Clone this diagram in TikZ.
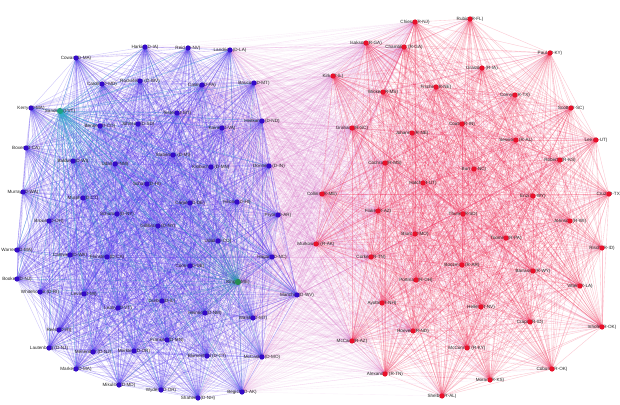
\documentclass[tikz,border=0pt]{standalone}
\usepackage{fontspec}
\setmainfont{Liberation Sans}
\definecolor{demnode}{RGB}{52,10,200}
\definecolor{repnode}{RGB}{232,16,42}
\definecolor{demedge}{RGB}{80,52,238}
\definecolor{repedge}{RGB}{242,36,78}
\definecolor{crossedge}{RGB}{220,100,200}
\definecolor{sandcol}{RGB}{30,160,130}
\definecolor{sandedge}{RGB}{40,190,200}
\definecolor{kingcol}{RGB}{40,140,80}
\def\dems{d1/145/47/Harkin (D-IA),d2/188/48/Reid (D-NV),d3/230/50/Landrieu (D-LA),d4/76/58/Cowan (D-MA),d5/102/84/Cardin (D-MD),d6/140/81/Rockefeller (D-WV),d7/202/85/Casey (D-PA),d8/254/83/Baucus (D-MT),d9/31/108/Kerry (D-MA),d10/60/111/Sanders (I-VT),d11/100/126/Bennet (D-CO),d12/138/124/Johnson (D-SD),d13/177/113/Tester (D-MT),d14/262/121/Heitkamp (D-ND),d15/222/128/Kaine (D-VA),d16/26/148/Boxer (D-CA),d17/73/161/Baldwin (D-WI),d18/115/164/Udall (D-NM),d19/173/155/Stabenow (D-MI),d20/211/167/Klobuchar (D-MN),d21/269/166/Donnelly (D-IN),d22/147/184/Schatz (D-HI),d23/23/192/Murray (D-WA),d24/83/198/Murphy (D-CT),d25/117/214/Schumer (D-NY),d26/190/203/Carper (D-DE),d27/237/202/Hirono (D-HI),d28/278/215/Pryor (D-AR),d29/49/221/Brown (D-OH),d30/158/226/Gillibrand (D-NY),d31/218/241/Udall (D-CO),d32/17/250/Warren (D-MA),d33/70/255/Cantwell (D-WA),d34/107/257/Feinstein (D-CA),d35/272/257/Hagan (D-NC),d36/190/266/Coons (D-DE),d37/17/279/Booker (D-NJ),d38/40/292/Whitehouse (D-RI),d39/84/294/Levin (D-MI),d40/118/308/Leahy (D-VT),d41/238/282/King (I-ME),d42/297/295/Manchin (D-WV),d43/162/301/Durbin (D-IL),d44/205/313/Heinrich (D-NM),d45/253/318/Walsh (D-MT),d46/59/330/Reed (D-RI),d47/49/348/Lautenberg (D-NJ),d48/93/352/Menendez (D-NJ),d49/134/351/Merkley (D-OR),d50/167/340/Franken (D-MN),d51/207/356/Blumenthal (D-CT),d52/262/357/McCaskill (D-MO),d53/76/369/Markey (D-MA),d54/119/385/Mikulski (D-MD),d55/161/390/Wyden (D-OR),d56/198/398/Shaheen (D-NH),d57/242/392/Begich (D-AK)}
\def\reps{r1/415/22/Chiesa (R-NJ),r2/470/19/Rubio (R-FL),r3/366/43/Isakson (R-GA),r4/404/47/Chambliss (R-GA),r5/550/53/Paul (R-KY),r6/482/68/Grassley (R-IA),r7/333/76/Kirk (R-IL),r8/383/92/Wicker (R-MS),r9/436/87/Fischer (R-NE),r10/515/95/Cornyn (R-TX),r11/571/108/Scott (R-SC),r12/352/128/Graham (R-SC),r13/412/133/Johanns (R-NE),r14/462/124/Coats (R-IN),r15/516/140/Sessions (R-AL),r16/596/140/Lee (R-UT),r17/560/160/Roberts (R-KS),r18/385/163/Cochran (R-MS),r19/423/183/Hatch (R-UT),r20/474/169/Burr (R-NC),r21/322/194/Collins (R-ME),r22/533/196/Enzi (R-WY),r23/609/194/Cruz (R-TX),r24/378/211/Flake (R-AZ),r25/463/214/Thune (R-SD),r26/570/221/Johnson (R-WI),r27/415/234/Blunt (R-MO),r28/506/238/Toomey (R-PA),r29/316/244/Murkowski (R-AK),r30/602/248/Risch (R-ID),r31/371/257/Corker (R-TN),r32/462/265/Boozman (R-AR),r33/533/271/Barrasso (R-WY),r34/416/280/Portman (R-OH),r35/580/286/Vitter (R-LA),r36/382/303/Ayotte (R-NH),r37/481/307/Heller (R-NV),r38/530/322/Crapo (R-ID),r39/602/327/Inhofe (R-OK),r40/413/331/Hoeven (R-ND),r41/352/341/McCain (R-AZ),r42/467/348/McConnell (R-KY),r43/552/369/Coburn (R-OK),r44/385/374/Alexander (R-TN),r45/490/380/Moran (R-KS),r46/442/396/Shelby (R-AL)}
\begin{document}
\begin{tikzpicture}[x=1pt,y=-1pt,
  de/.style={draw=demedge,draw opacity=0.3,line width=0.35pt},
  re/.style={draw=repedge,draw opacity=0.27,line width=0.35pt},
  se/.style={draw=sandedge,draw opacity=0.45,line width=0.35pt},
  ke/.style={draw=kingcol!60!cyan,draw opacity=0.3,line width=0.35pt},
  xe/.style={draw=crossedge,draw opacity=0.1,line width=0.35pt},
  lbl/.style={font=\fontsize{4.6}{5}\selectfont,text=black!85,inner sep=0pt},
  dnode/.style={fill=demnode},
  rnode/.style={fill=repnode}]
\useasboundingbox (0,0) rectangle (620,404);
\fill[white] (0,0) rectangle (620,404);
% coordinates
\foreach \n/\x/\y/\t in \dems {\coordinate (\n) at (\x,\y);}
\foreach \n/\x/\y/\t in \reps {\coordinate (\n) at (\x,\y);}
% cross-party connectors
\foreach \a in {3,7,8,13,14,15,21,28,35,41,42,45,52,57}{
  \foreach \b in {1,...,46}{\draw[xe] (d\a) -- (r\b);}}
\foreach \b in {1,3,4,7,12,18,21,24,29,31,40,41,44}{
  \foreach \a in {1,...,57}{\draw[xe] (r\b) -- (d\a);}}
% democratic connectors
\foreach \i in {1,...,56}{
  \pgfmathtruncatemacro{\s}{\i+1}
  \foreach \j in {\s,...,57}{\draw[de] (d\i) -- (d\j);}}
\foreach \j in {1,...,57}{\draw[se] (d10) -- (d\j);}
\foreach \j in {1,...,57}{\draw[ke] (d41) -- (d\j);}
% republican connectors
\foreach \i in {1,...,45}{
  \pgfmathtruncatemacro{\s}{\i+1}
  \foreach \j in {\s,...,46}{\draw[re] (r\i) -- (r\j);}}
% labels
\foreach \n/\x/\y/\t in \dems {\node[lbl] (l\n) at (\n) {\t};}
\foreach \n/\x/\y/\t in \reps {\node[lbl] (l\n) at (\n) {\t};}
% dots
\foreach \n/\x/\y/\t in \dems {\fill[dnode] (\n) circle (2.6pt);}
\foreach \n/\x/\y/\t in \reps {\fill[rnode] (\n) circle (2.6pt);}
\fill[sandcol] (d10) circle (3.1pt);
\fill[kingcol] (d41) circle (3.1pt);
\end{tikzpicture}
\end{document}
